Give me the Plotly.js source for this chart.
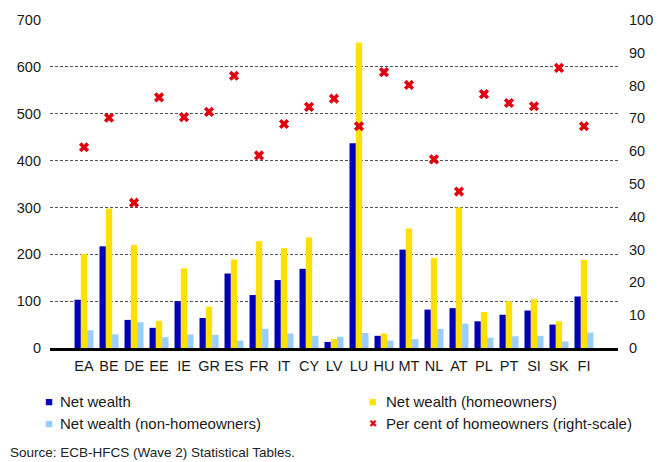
<!DOCTYPE html>
<html>
<head>
<meta charset="utf-8">
<script src="https://cdn.plot.ly/plotly-3.0.1.min.js"></script>
<style>html,body{margin:0;padding:0;background:#fff;}#chart{width:658px;height:462px;}</style>
</head>
<body>
<div id="chart"></div>
<script>
const countries = ["EA","BE","DE","EE","IE","GR","ES","FR","IT","CY","LV","LU","HU","MT","NL","AT","PL","PT","SI","SK","FI"];
const netWealth = [103,217,60,43,100,64,159,113,145,169,13,437,26,210,82,85,57,71,80,50,110];
const netWealthHomeowners = [201,297,220,58,170,88,189,228,213,236,19,652,31,255,192,300,77,100,104,57,188];
const netWealthNonHomeowners = [38,29,55,23,29,28,16,41,31,26,24,32,16,19,41,52,22,25,26,14,33];
const pctHomeowners = [61.2,70.2,44.3,76.4,70.4,72.0,83.0,58.7,68.3,73.5,76.0,67.6,84.1,80.2,57.5,47.7,77.4,74.7,73.7,85.4,67.6];
const seriesNames = ["Net wealth","Net wealth (homeowners)","Net wealth (non-homeowners)","Per cent of homeowners (right-scale)"];
const seriesColors = ["#0000B4","#FFE000","#99CCFF","#E3000F"];
const leftTicks = [0,100,200,300,400,500,600,700];
const rightTicks = [0,10,20,30,40,50,60,70,80,90,100];
const sourceText = "Source: ECB-HFCS (Wave 2) Statistical Tables.";

const FONT = "Liberation Sans, Arial, sans-serif";
const traces = [
  {type:"bar", x:countries, y:netWealth, name:seriesNames[0], marker:{color:seriesColors[0]}},
  {type:"bar", x:countries, y:netWealthHomeowners, name:seriesNames[1], marker:{color:seriesColors[1]}},
  {type:"bar", x:countries, y:netWealthNonHomeowners, name:seriesNames[2], marker:{color:seriesColors[2]}},
  {type:"scatter", mode:"markers", x:countries, y:pctHomeowners, yaxis:"y2", name:seriesNames[3],
   marker:{symbol:"x", size:9, color:seriesColors[3], line:{width:0}}}
];

// legend drawn as text (two columns, two rows)
const legendCols = [[-0.0018, 0.0141], [0.5687, 0.588]];
const legendRows = [-0.1616, -0.2287];
const legendAnn = [];
seriesNames.forEach((nm, i) => {
  const col = legendCols[i % 2], row = legendRows[Math.floor(i / 2)];
  const isMarker = i === 3;
  legendAnn.push({text: isMarker ? "✖" : "■", xref:"paper", yref:"paper", x:col[0], y:row,
    xanchor:"center", yanchor:"middle", showarrow:false,
    font:{size: isMarker ? 10 : 13, color: seriesColors[i], family: isMarker ? "DejaVu Sans" : FONT}});
  legendAnn.push({text: nm, xref:"paper", yref:"paper", x:col[1], y:row, xanchor:"left", yanchor:"middle",
    showarrow:false, font:{size:15, color:"#1a1a1a"}});
});

const layout = {
  width:658, height:462,
  margin:{l:50, r:40, t:20, b:114},
  paper_bgcolor:"#fff", plot_bgcolor:"#fff",
  font:{family:FONT, size:14, color:"#1a1a1a"},
  barmode:"group", bargap:0.24, bargroupgap:0,
  showlegend:false,
  xaxis:{type:"category", showline:true, linecolor:"#000", linewidth:2.5, ticks:"", showgrid:false,
         tickfont:{size:14.5}, ticklabelstandoff:3, fixedrange:true},
  yaxis:{range:[0,700], tickvals:leftTicks, showgrid:true, gridcolor:"#555", griddash:"3px,2px", gridwidth:1,
         zeroline:false, ticks:"", ticklabelstandoff:8, tickfont:{size:14.5}},
  yaxis2:{range:[0,100], tickvals:rightTicks, overlaying:"y", side:"right", showgrid:false, zeroline:false,
          ticks:"", ticklabelstandoff:10, tickfont:{size:14.5}},
  annotations: legendAnn.concat([{text:sourceText, xref:"paper", yref:"paper", x:-0.072, y:-0.318,
                xanchor:"left", yanchor:"middle", showarrow:false, borderpad:0, font:{size:13.5, color:"#222"}}])
};
Plotly.newPlot("chart", traces, layout, {displayModeBar:false, staticPlot:true});
</script>
</body>
</html>
